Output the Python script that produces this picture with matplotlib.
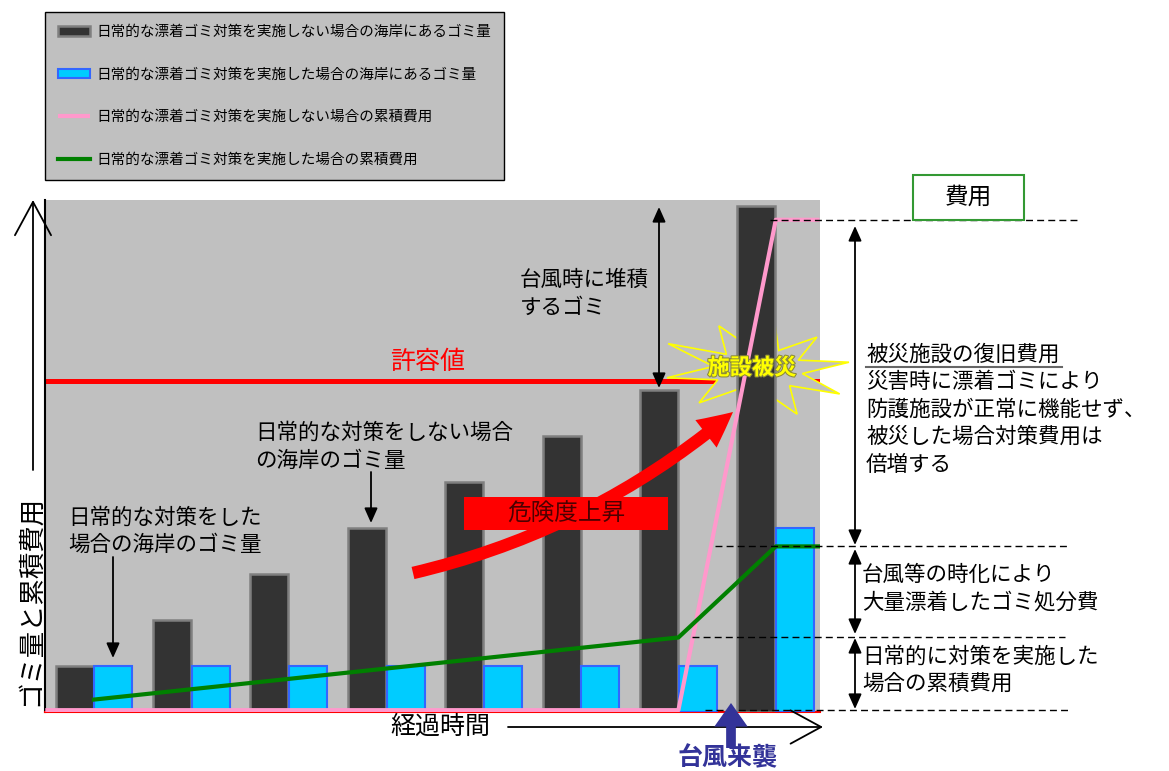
import numpy as np
import matplotlib
matplotlib.use("Agg")
import matplotlib.pyplot as plt
import matplotlib.patheffects as pe
from matplotlib.patches import Rectangle, Polygon, FancyArrowPatch

plt.rcParams['font.family'] = ['Noto Sans CJK JP', 'DejaVu Sans']

# --- データ ---
periods = np.arange(8)
trash_without = [1, 2, 3, 4, 5, 6, 7, 11]
trash_with = [1, 1, 1, 1, 1, 1, 1, 4]
cost_without_x = [-0.5, 6, 7, 7.45]
cost_without_y = [0.04, 0.04, 10.7, 10.7]
cost_with_x = [0, 6, 7, 7.45]
cost_with_y = [0.27, 1.62, 3.6, 3.6]
tolerance = 7.2

legend_labels = [
    "日常的な漂着ゴミ対策を実施しない場合の海岸にあるゴミ量",
    "日常的な漂着ゴミ対策を実施した場合の海岸にあるゴミ量",
    "日常的な漂着ゴミ対策を実施しない場合の累積費用",
    "日常的な漂着ゴミ対策を実施した場合の累積費用",
]

W, H = 1169, 771
GRAY = '#c0c0c0'


# ピクセル位置 -> データ座標 (注釈の配置用)
def dx(px):
    return (px - 94) / 97.4


def dy(py):
    return (712 - py) / 46.0


def P(px, py):
    return (dx(px), dy(py))


fig = plt.figure(figsize=(W / 100, H / 100), dpi=100)
ax = fig.add_axes([45 / W, 1 - 712 / H, 775 / W, 512 / H])
ax.set_facecolor(GRAY)
ax.set_xlim(dx(45), dx(820))
ax.set_ylim(0, 512 / 46.0)
ax.set_xticks([])
ax.set_yticks([])
ax.spines['top'].set_visible(False)
ax.spines['right'].set_visible(False)
ax.spines['left'].set_linewidth(1.5)
ax.spines['bottom'].set_color('red')
ax.spines['bottom'].set_linewidth(1.5)


def txt(px, py, s, size=15.5, ha='left', **kw):
    return ax.text(dx(px), dy(py), s, fontsize=size, ha=ha, va='center',
                   clip_on=False, zorder=8, **kw)


def arrow(p1, p2, style, color='black', lw=1.3, z=7, **kw):
    a = FancyArrowPatch(P(*p1), P(*p2), arrowstyle=style, mutation_scale=1,
                        color=color, lw=lw, clip_on=False, zorder=z,
                        shrinkA=0, shrinkB=0, **kw)
    ax.add_patch(a)
    return a


# 許容値
ax.axhline(tolerance, color='red', lw=3.6, zorder=1)

# 施設被災の爆発マーク
n_spk = 10
ang = np.linspace(0, 2 * np.pi, 2 * n_spk, endpoint=False) + 0.15
mult = [1.0, 0.9, 1.05, 0.95, 1.1, 1.0, 0.9, 1.05, 0.95, 1.0]
rx = np.array([(92 * mult[i // 2]) if i % 2 == 0 else 45 for i in range(2 * n_spk)])
ry = np.array([(52 * mult[i // 2]) if i % 2 == 0 else 22 for i in range(2 * n_spk)])
star_px = 758 + rx * np.cos(ang)
star_py = 370 - ry * np.sin(ang)
star = Polygon(np.column_stack([dx(star_px), dy(star_py)]), closed=True,
               facecolor=GRAY, edgecolor='#ffff00', lw=1.2, zorder=2, clip_on=False)
ax.add_patch(star)

# 棒グラフ
b1 = ax.bar(periods - 0.2, trash_without, width=0.39, color='#333333',
            edgecolor='#7f7f7f', linewidth=1.8, zorder=3)
b2 = ax.bar(periods + 0.2, trash_with, width=0.39, color='#00ccff',
            edgecolor='#3366ff', linewidth=1.5, zorder=3)

# 累積費用
l1, = ax.plot(cost_without_x, cost_without_y, color='#ff99cc', lw=3, zorder=4,
              solid_capstyle='butt')
l2, = ax.plot(cost_with_x, cost_with_y, color='#008000', lw=3, zorder=4)

txt(752, 368, "施設被災", size=16, ha='center', color='#ffff00', weight='bold',
    path_effects=[pe.withStroke(linewidth=1.5, foreground='#8a8a3a')])

# 凡例
leg = ax.legend([b1, b2, l1, l2], legend_labels, loc='upper left',
                bbox_to_anchor=(45 / W, 1 - 12 / H), bbox_transform=fig.transFigure,
                fontsize=10.5, frameon=True, fancybox=False, framealpha=1,
                facecolor=GRAY, edgecolor='black', labelspacing=1.95,
                handlelength=2.2, handletextpad=0.4, borderpad=0.9,
                handleheight=0.6, borderaxespad=0)
leg.get_frame().set_linewidth(1)

# 注釈テキスト
txt(428, 362, "許容値", size=18, ha='center', color='red')
txt(520, 280, "台風時に堆積")
txt(520, 308, "するゴミ")
arrow((659, 207), (659, 388), '<|-|>,head_length=9,head_width=4')

txt(255, 433, "日常的な対策をしない場合")
txt(255, 461, "の海岸のゴミ量")
arrow((371, 472), (371, 523), '-|>,head_length=9,head_width=4')

txt(68, 518, "日常的な対策をした")
txt(68, 545, "場合の海岸のゴミ量")
arrow((113, 557), (113, 658), '-|>,head_length=9,head_width=4')

# 危険度上昇
arrow((413, 573), (733, 412), 'simple,head_length=25,head_width=25,tail_width=9',
      color='red', lw=0, z=5, connectionstyle='arc3,rad=0.12')
ax.add_patch(Rectangle(P(464, 530), dx(668) - dx(464), dy(497) - dy(530),
                       facecolor='red', edgecolor='none', zorder=6))
txt(566, 514, "危険度上昇", size=17, ha='center', color='#4d0000')

# 右側の費用の内訳
for lvl, x0, x1 in [(cost_without_y[-1], 770, 1080), (cost_with_y[-1], 715, 1070),
                    (cost_with_y[1], 692, 1065), (cost_without_y[0], 705, 1070)]:
    ax.plot([dx(x0), dx(x1)], [lvl, lvl], color='black', lw=1, ls=(0, (5, 3)),
            clip_on=False, zorder=7)

arrow((855, 226), (855, 545), '<|-|>,head_length=9,head_width=4')
arrow((855, 549), (855, 634), '<|-|>,head_length=9,head_width=4')
arrow((855, 638), (855, 709), '<|-|>,head_length=9,head_width=4')

txt(866, 355, "被災施設の復旧費用")
ax.plot([dx(866), dx(1062)], [dy(367), dy(367)], color='#666666', lw=1.5,
        clip_on=False)
txt(866, 382, "災害時に漂着ゴミにより")
txt(866, 410, "防護施設が正常に機能せず、")
txt(866, 437, "被災した場合対策費用は")
txt(866, 465, "倍増する")

txt(862, 575, "台風等の時化により")
txt(862, 603, "大量漂着したゴミ処分費")
txt(862, 657, "日常的に対策を実施した")
txt(862, 684, "場合の累積費用")

ax.add_patch(Rectangle(P(913, 220), dx(1024) - dx(913), dy(175) - dy(220),
                       facecolor='white', edgecolor='#339933', lw=1.5,
                       clip_on=False, zorder=7))
txt(968, 197, "費用", size=17, ha='center')

# 軸ラベルと矢印
txt(30, 600, "ゴミ量と累積費用", size=19, ha='center', rotation=90)
arrow((33, 470), (33, 200), '->,head_length=24,head_width=13')
txt(440, 727, "経過時間", size=18, ha='center')
arrow((508, 727), (823, 727), '->,head_length=22,head_width=12')

arrow((731, 748), (731, 703), 'simple,head_length=17,head_width=24,tail_width=7',
      color='#333399', lw=0)
txt(728, 758, "台風来襲", size=18, ha='center', color='#333399', weight='bold')

fig.savefig("out.png", dpi=100)
